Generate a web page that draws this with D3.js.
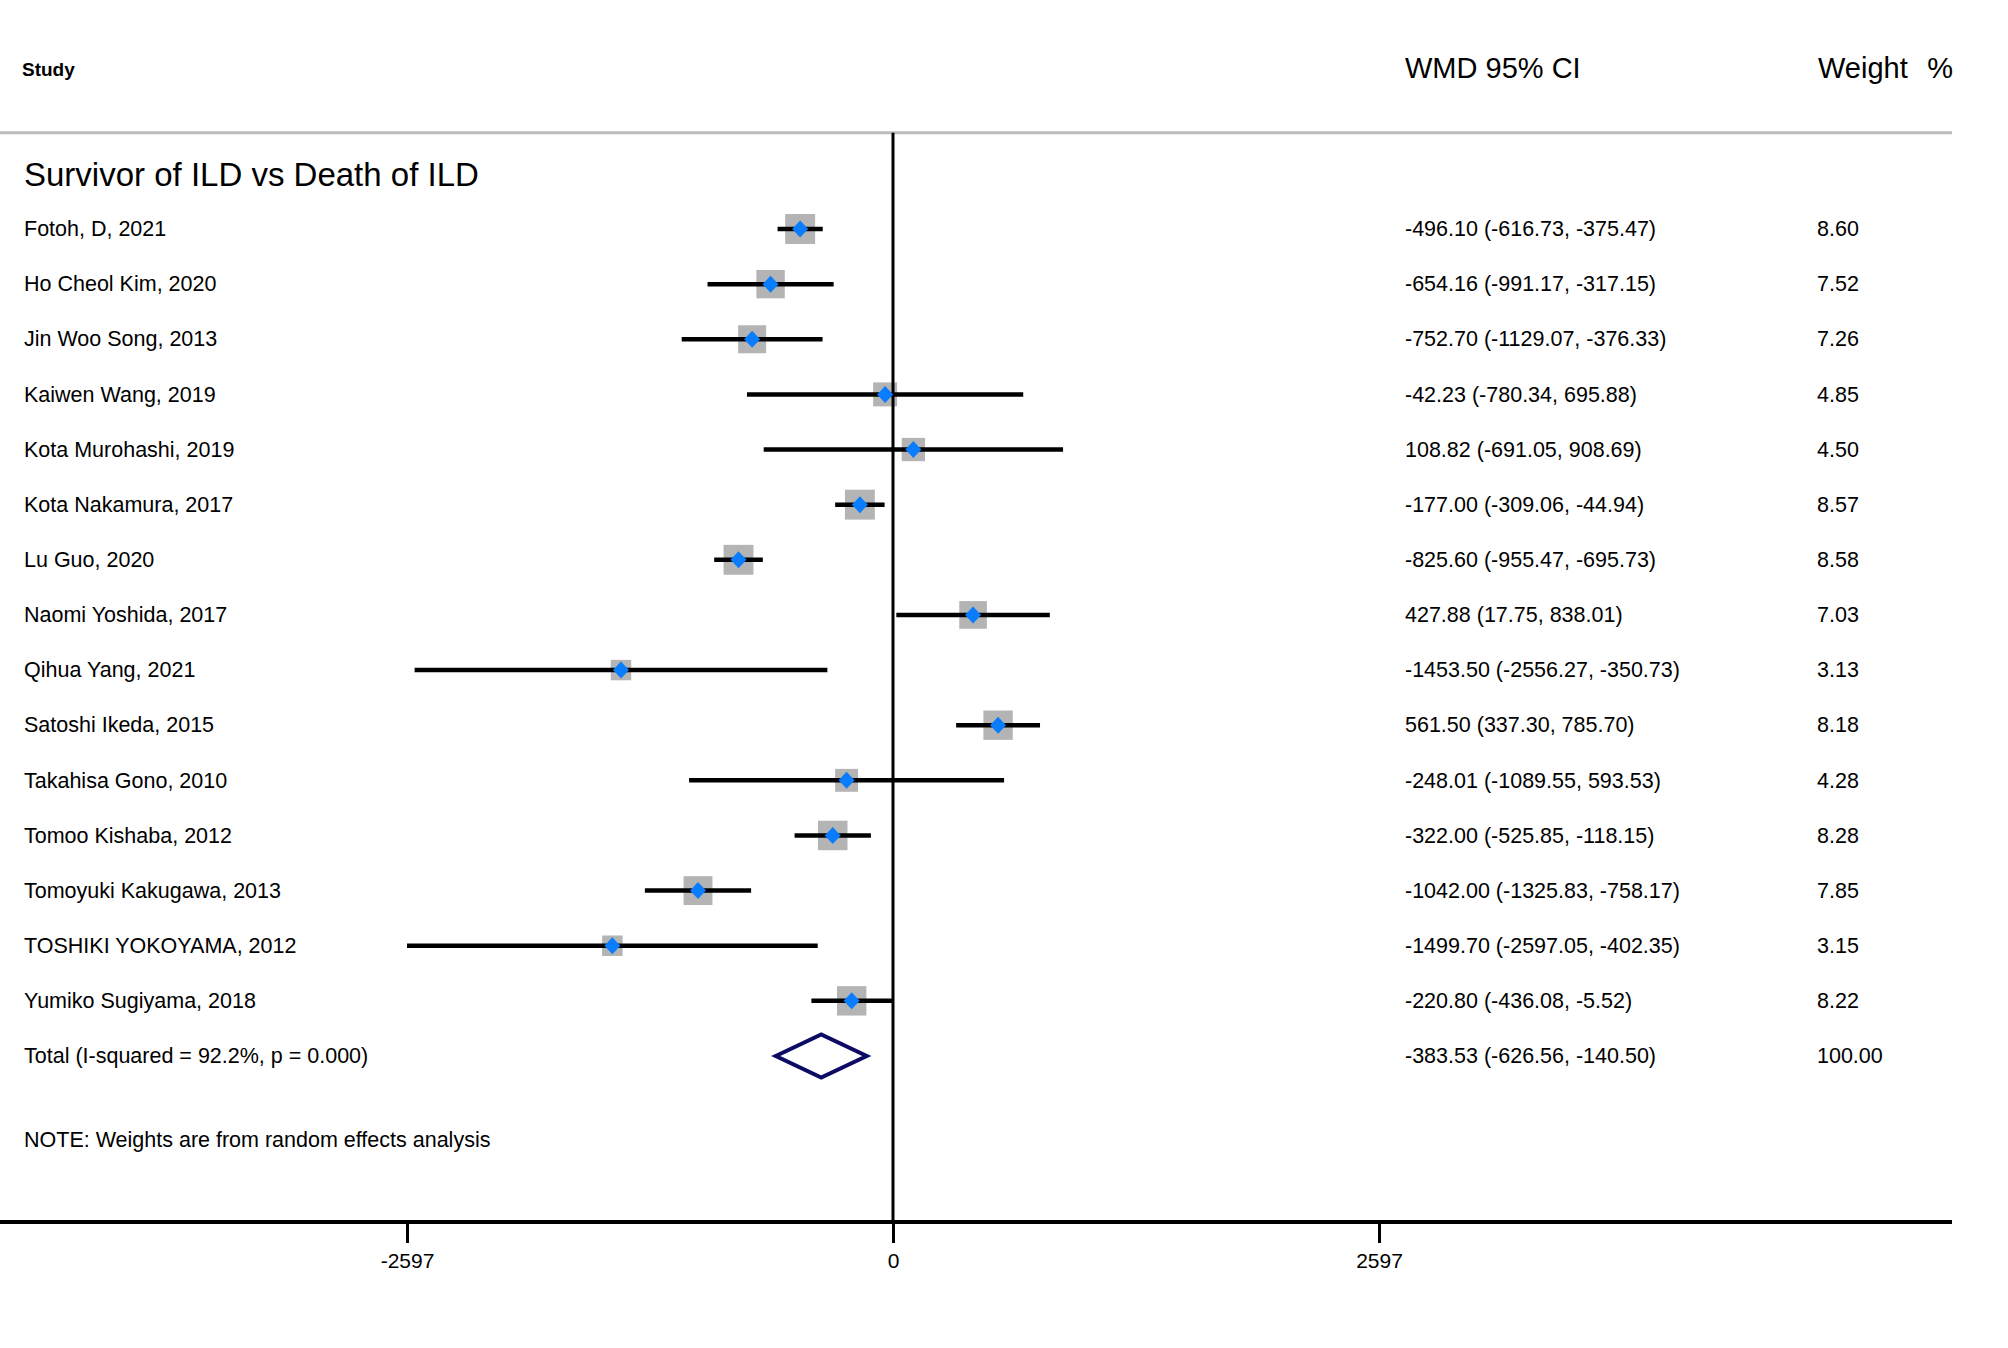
<!DOCTYPE html>
<html>
<head>
<meta charset="utf-8">
<script src="https://cdn.jsdelivr.net/npm/d3@7"></script>
<style>
  html, body { margin: 0; padding: 0; background: #fff; }
  svg { display: block; font-family: "Liberation Sans", Arial, Helvetica, sans-serif; }
</style>
</head>
<body>
<svg id="chart" width="2008" height="1348"></svg>
<script>
// ---- Data ----
const studies = [
  "Fotoh, D, 2021", "Ho Cheol Kim, 2020", "Jin Woo Song, 2013", "Kaiwen Wang, 2019",
  "Kota Murohashi, 2019", "Kota Nakamura, 2017", "Lu Guo, 2020", "Naomi Yoshida, 2017",
  "Qihua Yang, 2021", "Satoshi Ikeda, 2015", "Takahisa Gono, 2010", "Tomoo Kishaba, 2012",
  "Tomoyuki Kakugawa, 2013", "TOSHIKI YOKOYAMA, 2012", "Yumiko Sugiyama, 2018"
];
const estimates = [-496.10, -654.16, -752.70, -42.23, 108.82, -177.00, -825.60, 427.88,
  -1453.50, 561.50, -248.01, -322.00, -1042.00, -1499.70, -220.80];
const lowerCI = [-616.73, -991.17, -1129.07, -780.34, -691.05, -309.06, -955.47, 17.75,
  -2556.27, 337.30, -1089.55, -525.85, -1325.83, -2597.05, -436.08];
const upperCI = [-375.47, -317.15, -376.33, 695.88, 908.69, -44.94, -695.73, 838.01,
  -350.73, 785.70, 593.53, -118.15, -758.17, -402.35, -5.52];
const weights = [8.60, 7.52, 7.26, 4.85, 4.50, 8.57, 8.58, 7.03, 3.13, 8.18, 4.28, 8.28, 7.85, 3.15, 8.22];

const totalLabel = "Total (I-squared = 92.2%, p = 0.000)";
const totalEstimate = -383.53, totalLower = -626.56, totalUpper = -140.50, totalWeight = 100.00;

const xTicks = [-2597, 0, 2597];
const groupTitle = "Survivor of ILD vs Death of ILD";
const noteText = "NOTE: Weights are from random effects analysis";

// ---- Layout ----
const svg = d3.select("#chart");
svg.append("rect").attr("width", 2008).attr("height", 1348).attr("fill", "#fff");

const x = d3.scaleLinear().domain([-2597, 2597]).range([407, 1379]);
const y = d3.scaleLinear().domain([0, 15]).range([229, 1056]);
const boxSide = d3.scaleLinear().domain([0, Math.sqrt(10)]).range([6, 6 + 8.16 * Math.sqrt(10)]);

const axisY = 1222;
const hy = s => s.replace(/\u2212/g, "-");
const fmt2 = d3.format(".2f");
const fmt = v => hy(fmt2(v));
const ROW_FS = 21.5;
const TEXT_DY = 1.5;

const rows = studies.map((s, i) => ({
  study: s, es: estimates[i], lo: lowerCI[i], hi: upperCI[i], w: weights[i], i
}));

// Header
svg.append("text").attr("x", 22).attr("y", 71).attr("dominant-baseline", "middle")
  .attr("font-size", 19).attr("font-weight", "bold").attr("fill", "#000").text("Study");
svg.append("text").attr("x", 1405).attr("y", 78)
  .attr("font-size", 29).attr("fill", "#000").text("WMD 95% CI");
svg.append("text").attr("x", 1818).attr("y", 78)
  .attr("font-size", 29).attr("fill", "#000").text("Weight");
svg.append("text").attr("x", 1953).attr("y", 78).attr("text-anchor", "end")
  .attr("font-size", 29).attr("fill", "#000").text("%");

svg.append("line").attr("x1", 0).attr("x2", 1952).attr("y1", 132.7).attr("y2", 132.7)
  .attr("stroke", "#bdbdbd").attr("stroke-width", 3);

// Group title
svg.append("text").attr("x", 24).attr("y", 186)
  .attr("font-size", 33).attr("fill", "#000").text(groupTitle);

// Row text
const textG = svg.append("g").attr("font-size", ROW_FS).attr("fill", "#000");
textG.selectAll("text.study").data(rows).join("text").attr("class", "study")
  .attr("x", 24).attr("y", d => y(d.i) + TEXT_DY).attr("dominant-baseline", "middle").text(d => d.study);
textG.selectAll("text.ci").data(rows).join("text").attr("class", "ci")
  .attr("x", 1405).attr("y", d => y(d.i) + TEXT_DY).attr("dominant-baseline", "middle")
  .text(d => `${fmt(d.es)} (${fmt(d.lo)}, ${fmt(d.hi)})`);
textG.selectAll("text.w").data(rows).join("text").attr("class", "w")
  .attr("x", 1817).attr("y", d => y(d.i) + TEXT_DY).attr("dominant-baseline", "middle")
  .text(d => fmt(d.w));

textG.append("text").attr("x", 24).attr("y", y(15) + TEXT_DY).attr("dominant-baseline", "middle").text(totalLabel);
textG.append("text").attr("x", 1405).attr("y", y(15) + TEXT_DY).attr("dominant-baseline", "middle")
  .text(`${fmt(totalEstimate)} (${fmt(totalLower)}, ${fmt(totalUpper)})`);
textG.append("text").attr("x", 1817).attr("y", y(15) + TEXT_DY).attr("dominant-baseline", "middle")
  .text(fmt(totalWeight));
textG.append("text").attr("x", 24).attr("y", 1141).attr("dominant-baseline", "middle").text(noteText);

// Boxes
svg.append("g").selectAll("rect").data(rows).join("rect")
  .attr("x", d => x(d.es) - boxSide(Math.sqrt(d.w)) / 2)
  .attr("y", d => y(d.i) - boxSide(Math.sqrt(d.w)) / 2)
  .attr("width", d => boxSide(Math.sqrt(d.w)))
  .attr("height", d => boxSide(Math.sqrt(d.w)))
  .attr("fill", "#b4b4b4");

// CI lines
svg.append("g").selectAll("line").data(rows).join("line")
  .attr("x1", d => x(d.lo)).attr("x2", d => x(d.hi))
  .attr("y1", d => y(d.i)).attr("y2", d => y(d.i))
  .attr("stroke", "#000").attr("stroke-width", 4.5);

// Zero line
svg.append("line").attr("x1", x(0)).attr("x2", x(0)).attr("y1", 132.7).attr("y2", axisY)
  .attr("stroke", "#000").attr("stroke-width", 3);

// Point diamonds
svg.append("g").selectAll("path").data(rows).join("path")
  .attr("d", d => {
    const cx = x(d.es), cy = y(d.i), hw = 8, hh = 8.5;
    return `M${cx - hw},${cy}L${cx},${cy - hh}L${cx + hw},${cy}L${cx},${cy + hh}Z`;
  })
  .attr("fill", "#0a7dff");

// Overall diamond
{
  const cy = y(15), hh = 21.5;
  svg.append("path")
    .attr("d", `M${x(totalLower)},${cy}L${x(totalEstimate)},${cy - hh}L${x(totalUpper)},${cy}L${x(totalEstimate)},${cy + hh}Z`)
    .attr("fill", "none").attr("stroke", "#0b0b66").attr("stroke-width", 4).attr("stroke-linejoin", "miter");
}

// Axis
svg.append("line").attr("x1", 0).attr("x2", 1952).attr("y1", axisY).attr("y2", axisY)
  .attr("stroke", "#000").attr("stroke-width", 4);
const axisG = svg.append("g").attr("transform", `translate(0,${axisY})`)
  .call(d3.axisBottom(x).tickValues(xTicks).tickSize(21).tickPadding(10).tickFormat(d => hy(d3.format("d")(d))));
axisG.select(".domain").remove();
axisG.selectAll(".tick line").attr("stroke", "#000").attr("stroke-width", 3);
axisG.selectAll(".tick text").attr("font-size", 21).attr("fill", "#000")
  .attr("font-family", "Liberation Sans, Arial, sans-serif");
</script>
</body>
</html>
